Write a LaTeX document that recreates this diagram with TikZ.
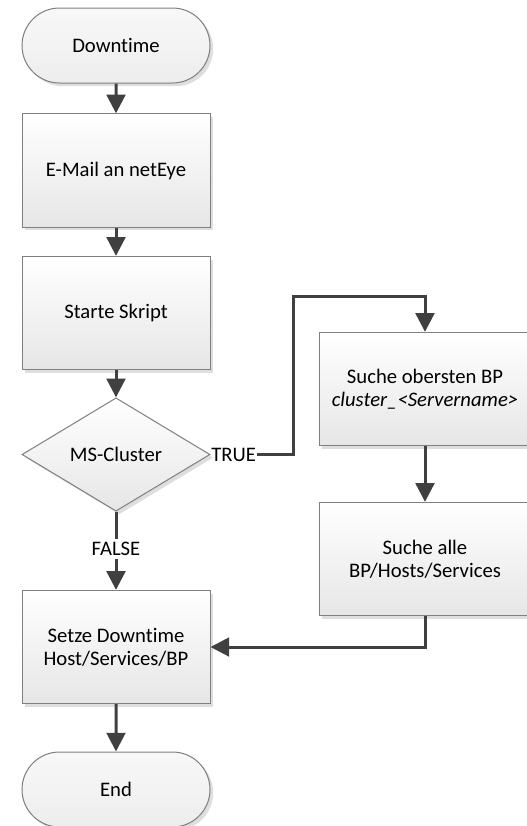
\documentclass[tikz,border=0pt]{standalone}
\usepackage{fontspec}
\setmainfont{Carlito}[Ligatures=NoCommon]
\usetikzlibrary{arrows.meta,shapes.geometric,shapes.misc,shadows}

\definecolor{boxedge}{HTML}{7F7F7F}
\definecolor{linegray}{HTML}{404040}
\definecolor{fillgray}{HTML}{E6E6E6}
\definecolor{termtop}{HTML}{F8F8F8}
\definecolor{termbot}{HTML}{EDEDED}

\tikzset{
  txt/.style={font=\fontsize{15.5}{17.5}\selectfont, text=black},
  boxbase/.style={txt, draw=boxedge, line width=0.75pt, align=center, inner sep=0pt,
    drop shadow={shadow xshift=2.4pt, shadow yshift=-2.4pt, fill=black!13, opacity=1}},
  process/.style={boxbase, rectangle, minimum width=141pt, minimum height=85pt,
    top color=white, bottom color=fillgray},
  wideprocess/.style={process, minimum width=159pt},
  terminal/.style={boxbase, rounded rectangle, minimum width=141pt, minimum height=56.25pt,
    top color=termtop, bottom color=termbot},
  decision/.style={boxbase, diamond, minimum width=141pt, minimum height=85pt,
    top color=white, bottom color=fillgray},
  lbl/.style={txt, inner sep=2pt},
  plain/.style={draw=linegray, line width=2.25pt},
  flow/.style={plain, -{Triangle[length=14pt,width=14pt]}}
}

\begin{document}
\begin{tikzpicture}[x=0.75pt, y=-0.75pt]
  \useasboundingbox (0,0) rectangle (527,826);
  \clip (0,0) rectangle (527,826);

  % main column
  \node[terminal] (down) at (116,45.5) {Downtime};
  \node[process] (mail) at (116,170.5) {E-Mail an netEye};
  \node[process] (start) at (116,313) {Starte Skript};
  \node[decision] (ms) at (116,454.5) {MS-Cluster};
  \node[process] (setze) at (116,647) {Setze Downtime\\Host/Services/BP};
  \node[terminal] (end) at (116,789.5) {End};

  % cluster branch
  \node[wideprocess] (oben) at (425,389) {Suche obersten BP\\\textit{cluster\_<Servername>}};
  \node[wideprocess] (alle) at (425,559) {Suche alle\\BP/Hosts/Services};

  % branch labels
  \node[lbl, anchor=west, inner sep=0.5pt] (true) at (ms.east) {TRUE};
  \node[lbl] (false) at (116,549) {FALSE};
  \coordinate (bend) at (293,296);

  % connectors
  \draw[flow] (down) -- (mail);
  \draw[flow] (mail) -- (start);
  \draw[flow] (start) -- (ms);
  \draw[flow] (true.east) -| (bend) -| (oben.north);
  \draw[plain] (ms.south) -- (false.north);
  \draw[flow] (false.south) -- (setze.north);
  \draw[flow] (oben) -- (alle);
  \draw[flow] (alle.south) |- (setze.east);
  \draw[flow] (setze) -- (end);
\end{tikzpicture}
\end{document}
